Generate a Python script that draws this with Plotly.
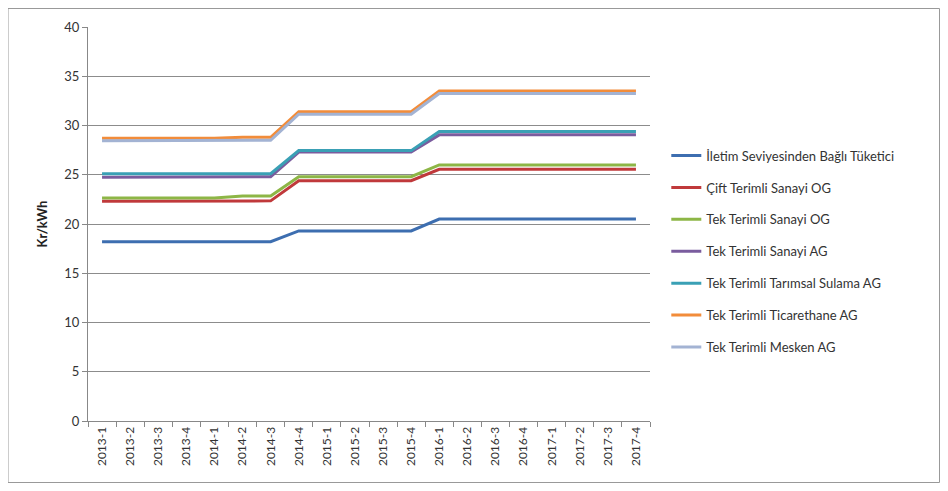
import plotly.graph_objects as go

periods = ["2013-1", "2013-2", "2013-3", "2013-4", "2014-1", "2014-2", "2014-3", "2014-4",
           "2015-1", "2015-2", "2015-3", "2015-4", "2016-1", "2016-2", "2016-3", "2016-4",
           "2017-1", "2017-2", "2017-3", "2017-4"]

iletim = [18.2, 18.2, 18.2, 18.2, 18.2, 18.2, 18.2, 19.3, 19.3, 19.3, 19.3, 19.3,
          20.5, 20.5, 20.5, 20.5, 20.5, 20.5, 20.5, 20.5]
cift_og = [22.3, 22.3, 22.3, 22.3, 22.3, 22.35, 22.35, 24.4, 24.4, 24.4, 24.4, 24.4,
           25.55, 25.55, 25.55, 25.55, 25.55, 25.55, 25.55, 25.55]
tek_og = [22.65, 22.65, 22.65, 22.65, 22.65, 22.85, 22.85, 24.8, 24.8, 24.8, 24.8, 24.8,
          26.0, 26.0, 26.0, 26.0, 26.0, 26.0, 26.0, 26.0]
tek_ag = [24.75, 24.75, 24.75, 24.75, 24.75, 24.8, 24.8, 27.3, 27.3, 27.3, 27.3, 27.3,
          29.05, 29.05, 29.05, 29.05, 29.05, 29.05, 29.05, 29.05]
tarimsal = [25.1, 25.1, 25.1, 25.1, 25.1, 25.1, 25.1, 27.45, 27.45, 27.45, 27.45, 27.45,
            29.4, 29.4, 29.4, 29.4, 29.4, 29.4, 29.4, 29.4]
ticarethane = [28.7, 28.7, 28.7, 28.7, 28.7, 28.8, 28.8, 31.4, 31.4, 31.4, 31.4, 31.4,
               33.5, 33.5, 33.5, 33.5, 33.5, 33.5, 33.5, 33.5]
mesken = [28.45, 28.45, 28.45, 28.45, 28.45, 28.5, 28.5, 31.15, 31.15, 31.15, 31.15, 31.15,
          33.25, 33.25, 33.25, 33.25, 33.25, 33.25, 33.25, 33.25]

series = [
    ("İletim Seviyesinden Bağlı Tüketici", iletim, "#3D6EB0"),
    ("Çift Terimli Sanayi OG", cift_og, "#C0393B"),
    ("Tek Terimli Sanayi OG", tek_og, "#8DB646"),
    ("Tek Terimli Sanayi AG", tek_ag, "#7A5C9E"),
    ("Tek Terimli Tarımsal Sulama AG", tarimsal, "#3AA0B5"),
    ("Tek Terimli Ticarethane AG", ticarethane, "#F28C3A"),
    ("Tek Terimli Mesken AG", mesken, "#A3B3D3"),
]

fig = go.Figure()
for i, (name, vals, color) in enumerate(series):
    fig.add_trace(go.Scatter(
        x=periods, y=vals, name=name, mode="lines",
        line=dict(color=color, width=3),
        legendgroup="g%d" % i,
    ))

font_family = "Lato, 'Open Sans', sans-serif"

fig.update_layout(
    width=932, height=475,
    margin=dict(l=80, r=290, t=19, b=62),
    paper_bgcolor="white", plot_bgcolor="white",
    font=dict(family=font_family, size=13, color="#333333"),
    showlegend=True,
    legend=dict(
        x=1.029, y=0.43, xanchor="left", yanchor="middle",
        font=dict(size=13, color="#333333"),
        tracegroupgap=12,
        bgcolor="rgba(0,0,0,0)",
    ),
    xaxis=dict(
        type="category", range=[-0.5, 19.5],
        tickangle=-90, tickson="boundaries", ticks="outside", ticklen=5,
        tickcolor="#888888", showline=True, linecolor="#888888", linewidth=1,
        showgrid=False, tickfont=dict(size=12, color="#333333"),
    ),
    yaxis=dict(
        range=[0, 40], dtick=5, tick0=0,
        showgrid=True, gridcolor="#8C8C8C", gridwidth=1,
        showline=True, linecolor="#888888", linewidth=1,
        ticks="outside", ticklen=5, tickcolor="#888888",
        zeroline=False,
        tickfont=dict(size=13, color="#333333"),
        title=dict(text="<b>Kr/kWh</b>", font=dict(size=13, color="#222222"), standoff=13),
    ),
    shapes=[dict(
        type="rect", xref="paper", yref="paper",
        x0=-80 / 562, x1=1 + 289.5 / 562, y0=-61.5 / 394, y1=1 + 18.5 / 394,
        line=dict(color="#999999", width=1), fillcolor="rgba(0,0,0,0)", layer="below",
    )],
)

fig.write_html("out.html")
